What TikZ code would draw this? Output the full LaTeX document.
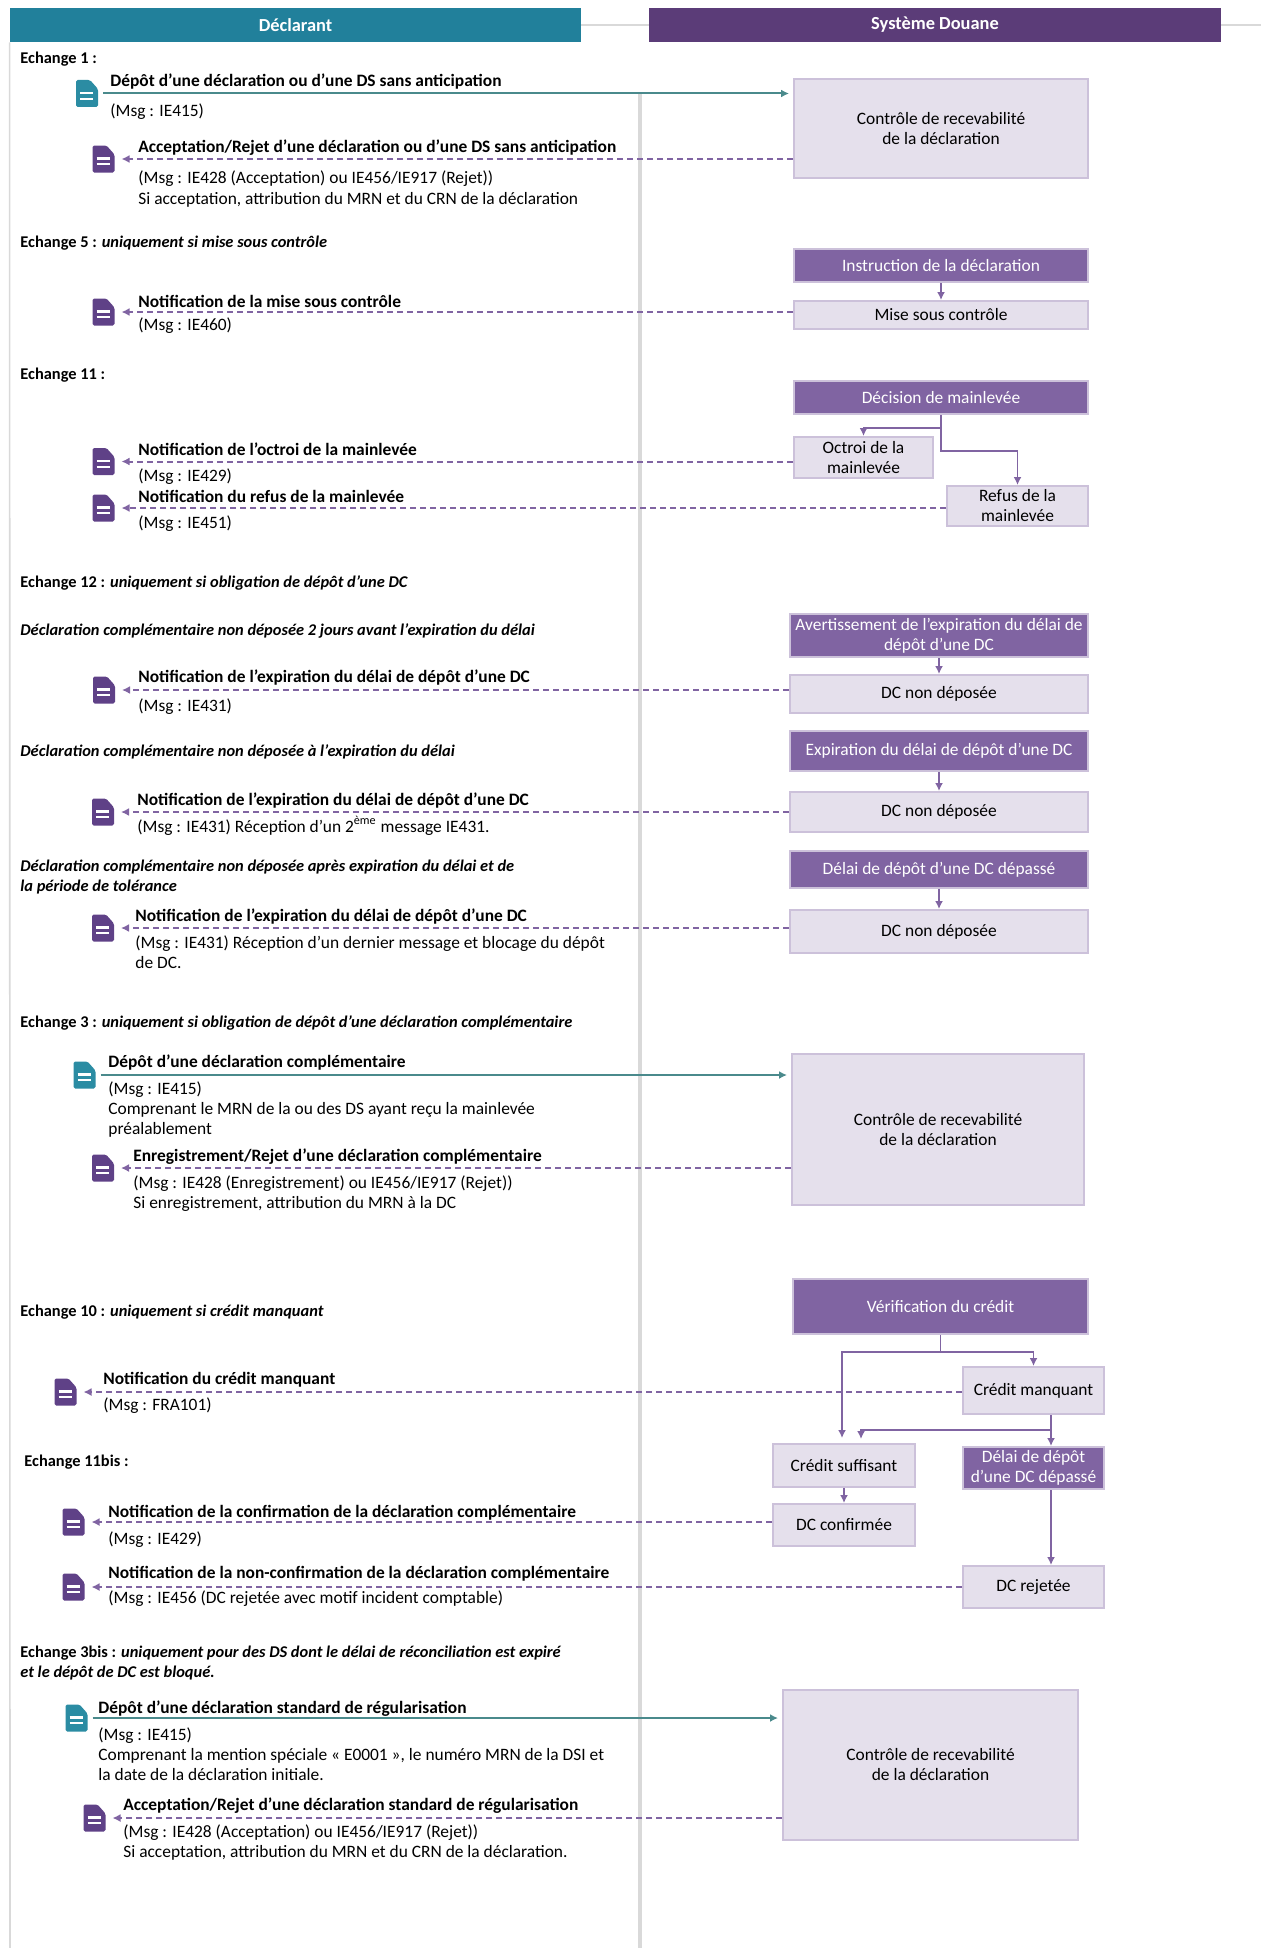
\documentclass[tikz,border=0pt]{standalone}
\usepackage{fontspec}
\setmainfont{Carlito}
\usetikzlibrary{positioning, arrows.meta}

\definecolor{decl}{HTML}{21809B}
\definecolor{douane}{HTML}{5B3C78}
\definecolor{boxdark}{HTML}{8064A2}
\definecolor{boxlight}{HTML}{E5E0EC}
\definecolor{boxline}{HTML}{CCC1DA}
\definecolor{icteal}{HTML}{2B8CA3}
\definecolor{icpurple}{HTML}{5F4187}
\definecolor{arrteal}{HTML}{4A8A8C}
\definecolor{arrpurple}{HTML}{8064A2}
\definecolor{laneline}{HTML}{D9D9D9}

\newcommand{\basefont}{\fontsize{8.7}{10}\selectfont}
\newcommand{\headfont}{\fontsize{8.2}{10}\selectfont}
\newcommand{\lines}[1]{\begin{tabular}[t]{@{}l@{}}#1\end{tabular}} % first line on the baseline

\tikzset{
	>={Latex[length=4pt,width=4pt]}, % small filled arrow heads
	lanehead/.style={minimum height=17pt, inner sep=0pt, text=white, font=\fontsize{9.2}{11}\selectfont\bfseries}, % the two column heads
	laneline/.style={draw=laneline, line width=0.8pt}, % grey separators
	msgtitle/.style={anchor=base west, inner sep=0pt, font=\basefont\bfseries}, % bold message name
	msg/.style={anchor=base west, inner sep=0pt, font=\basefont}, % message details
	heading/.style={anchor=base west, inner sep=0pt, font=\headfont\bfseries}, % Echange ...
	lbox/.style={draw=boxline, fill=boxlight, line width=1pt, align=center, inner sep=1pt, font=\basefont}, % light step
	dbox/.style={lbox, fill=boxdark, text=white}, % dark step
	docicon/.style={minimum width=11pt, minimum height=13.5pt, inner sep=0pt, outer sep=0pt,
		path picture={
			\fill[#1, rounded corners=0.8pt] (path picture bounding box.south west) -- (path picture bounding box.north west)
				-- ([xshift=-4pt]path picture bounding box.north east) -- ([yshift=-4.5pt]path picture bounding box.north east)
				-- (path picture bounding box.south east) -- cycle;
			\draw[white, line width=1.1pt] ([xshift=2pt,yshift=-6.5pt]path picture bounding box.north west) -- ([xshift=-2.5pt,yshift=-6.5pt]path picture bounding box.north east);
			\draw[white, line width=1.1pt] ([xshift=2pt,yshift=-9.4pt]path picture bounding box.north west) -- ([xshift=-2.5pt,yshift=-9.4pt]path picture bounding box.north east);
		}}, % page symbol
	sendarrow/.style={->, draw=arrteal, line width=1pt, shorten <=2.5pt, shorten >=2pt}, % declarant -> douane
	replyarrow/.style={->, draw=arrpurple, line width=1pt, dash pattern=on 3pt off 2pt, shorten >=3.5pt}, % douane -> declarant
	flow/.style={->, draw=arrpurple, line width=0.8pt}, % steps inside the system
}

\begin{document}
\begin{tikzpicture}[x=0.5pt, y=-0.5pt]
	\useasboundingbox (0,0) rectangle (1261,1948);

	% columns
	\node[lanehead, fill=decl, minimum width=285.5pt] (decl) at (295.5,25) {Déclarant};
	\node[lanehead, fill=douane, minimum width=286pt] (douane) at (935,25) {Système Douane};
	\draw[laneline] (decl.east) -- (douane.west);
	\draw[laneline] (douane.east) -- (1261,25);
	\draw[laneline] (decl.south west) -- (10,1948);
	\draw[laneline, line width=2pt] (640,94) -- (640,1948);

	% Echange 1
	\node[heading] (h1) at (20,64) {Echange 1 :};
	\node[lbox, minimum width=147pt, minimum height=49.5pt] (ctl1) at (941,128.5) {Contrôle de recevabilité\\de la déclaration};
	\node[docicon=icteal] (i1) at (87,93.5) {};
	\node[msgtitle] (t1) at (110,87) {Dépôt d’une déclaration ou d’une DS sans anticipation};
	\node[msg] (m1) at (110,117) {(Msg : IE415)};
	\node[docicon=icpurple] (i2) at (103.5,159) {};
	\node[msgtitle] (t2) at (138,153) {Acceptation/Rejet d’une déclaration ou d’une DS sans anticipation};
	\node[msg] (m2) at (138,184) {\lines{(Msg : IE428 (Acceptation) ou IE456/IE917 (Rejet))\\Si acceptation, attribution du MRN et du CRN de la déclaration}};
	\draw[sendarrow] (i1) -- (i1 -| ctl1.west);
	\draw[replyarrow] (ctl1.west |- i2) -- (i2);

	% Echange 5
	\node[heading] (h2) at (20,247) {Echange 5 : \textit{uniquement si mise sous contrôle}};
	\node[dbox, minimum width=147pt, minimum height=16.5pt] (instr) at (941,265.5) {Instruction de la déclaration};
	\node[lbox, minimum width=147pt, minimum height=14pt, below=8.5pt of instr] (misectl) {Mise sous contrôle};
	\node[docicon=icpurple] (i3) at (103.5,312) {};
	\node[msgtitle] (t3) at (138,307) {Notification de la mise sous contrôle};
	\node[msg] (m3) at (138,330) {(Msg : IE460)};
	\draw[flow] (instr) -- (misectl);
	\draw[replyarrow] (misectl.west |- i3) -- (i3);

	% Echange 11
	\node[heading] (h3) at (20,379) {Echange 11 :};
	\node[dbox, minimum width=147pt, minimum height=16.5pt] (decision) at (941,397.5) {Décision de mainlevée};
	\node[lbox, minimum width=69.5pt, minimum height=20.5pt] (octroi) at (863.5,457.5) {Octroi de la\\mainlevée};
	\node[lbox, minimum width=70.5pt, minimum height=20pt] (refus) at (1017.5,506) {Refus de la\\mainlevée};
	\node[docicon=icpurple] (i4) at (103.5,461.5) {};
	\node[msgtitle] (t4) at (138,455) {Notification de l’octroi de la mainlevée};
	\node[msg] (m4) at (138,481) {(Msg : IE429)};
	\node[docicon=icpurple] (i5) at (103.5,508) {};
	\node[msgtitle] (t5) at (138,502) {Notification du refus de la mainlevée};
	\node[msg] (m5) at (138,528) {(Msg : IE451)};
	\draw[flow] (decision.south) -- ++(0,13) -| (octroi.north);
	\draw[flow] (decision.south) -- ++(0,36) -| (refus.north);
	\draw[replyarrow] (octroi.west |- i4) -- (i4);
	\draw[replyarrow] (refus.west |- i5) -- (i5);

	% Echange 12
	\node[heading] (h4) at (20,587) {Echange 12 : \textit{uniquement si obligation de dépôt d’une DC}};
	\node[heading] (h5) at (20,635) {\textit{Déclaration complémentaire non déposée 2 jours avant l’expiration du délai}};
	\node[dbox, minimum width=149pt, minimum height=21.5pt, inner sep=0.5pt] (avert) at (939,635.5) {Avertissement de l’expiration du délai de\\dépôt d’une DC};
	\node[lbox, minimum width=149pt, minimum height=19pt, below=8pt of avert] (dcnd1) {DC non déposée};
	\node[docicon=icpurple] (i6) at (104,690) {};
	\node[msgtitle] (t6) at (138,682) {Notification de l’expiration du délai de dépôt d’une DC};
	\node[msg] (m6) at (138,711) {(Msg : IE431)};
	\draw[flow] (avert) -- (dcnd1);
	\draw[replyarrow] (dcnd1.west |- i6) -- (i6);

	\node[heading] (h6) at (20,756) {\textit{Déclaration complémentaire non déposée à l’expiration du délai}};
	\node[dbox, minimum width=149pt, minimum height=20pt] (expir) at (939,751) {Expiration du délai de dépôt d’une DC};
	\node[lbox, minimum width=149pt, minimum height=20pt, below=9.5pt of expir] (dcnd2) {DC non déposée};
	\node[docicon=icpurple] (i7) at (103,812) {};
	\node[msgtitle] (t7) at (137,805) {Notification de l’expiration du délai de dépôt d’une DC};
	\node[msg] (m7) at (137,832) {(Msg : IE431) Réception d’un 2\textsuperscript{ème} message IE431.};
	\draw[flow] (expir) -- (dcnd2);
	\draw[replyarrow] (dcnd2.west |- i7) -- (i7);

	\node[heading] (h7) at (20,871) {\lines{\textit{Déclaration complémentaire non déposée après expiration du délai et de}\\\textit{la période de tolérance}}};
	\node[dbox, minimum width=149pt, minimum height=18.5pt] (depasse1) at (939,869.5) {Délai de dépôt d’une DC dépassé};
	\node[lbox, minimum width=149pt, minimum height=21.5pt, below=10pt of depasse1] (dcnd3) {DC non déposée};
	\node[docicon=icpurple] (i8) at (103,928) {};
	\node[msgtitle] (t8) at (135,921) {Notification de l’expiration du délai de dépôt d’une DC};
	\node[msg] (m8) at (135,948) {\lines{(Msg : IE431) Réception d’un dernier message et blocage du dépôt\\de DC.}};
	\draw[flow] (depasse1) -- (dcnd3);
	\draw[replyarrow] (dcnd3.west |- i8) -- (i8);

	% Echange 3
	\node[heading] (h8) at (20,1027) {Echange 3 : \textit{uniquement si obligation de dépôt d’une déclaration complémentaire}};
	\node[lbox, minimum width=146pt, minimum height=75.5pt] (ctl2) at (938,1129.5) {Contrôle de recevabilité\\de la déclaration};
	\node[docicon=icteal] (i9) at (84.5,1075) {};
	\node[msgtitle] (t9) at (108,1067) {Dépôt d’une déclaration complémentaire};
	\node[msg] (m9) at (108,1094) {\lines{(Msg : IE415)\\Comprenant le MRN de la ou des DS ayant reçu la mainlevée\\préalablement}};
	\node[docicon=icpurple] (i10) at (103,1168) {};
	\node[msgtitle] (t10) at (133,1161) {Enregistrement/Rejet d’une déclaration complémentaire};
	\node[msg] (m10) at (133,1188) {\lines{(Msg : IE428 (Enregistrement) ou IE456/IE917 (Rejet))\\Si enregistrement, attribution du MRN à la DC}};
	\draw[sendarrow] (i9) -- (i9 -| ctl2.west);
	\draw[replyarrow] (ctl2.west |- i10) -- (i10);

	% Echange 10 / 11bis
	\node[heading] (h9) at (20,1316) {Echange 10 : \textit{uniquement si crédit manquant}};
	\node[dbox, minimum width=147.5pt, minimum height=27.5pt] (verif) at (940.5,1306.5) {Vérification du crédit};
	\node[lbox, minimum width=70.5pt, minimum height=23.5pt] (manquant) at (1033.5,1390.5) {Crédit manquant};
	\node[lbox, minimum width=71pt, minimum height=21.5pt] (suffisant) at (844,1465.5) {Crédit suffisant};
	\node[dbox, minimum width=70.5pt, minimum height=21pt] (depasse2) at (1033.5,1468) {Délai de dépôt\\d’une DC dépassé};
	\node[lbox, minimum width=71pt, minimum height=21pt] (confirmee) at (844,1525) {DC confirmée};
	\node[lbox, minimum width=70.5pt, minimum height=21pt] (rejetee) at (1033.5,1587) {DC rejetée};
	\node[docicon=icpurple] (i11) at (65.5,1392) {};
	\node[msgtitle] (t11) at (103,1384) {Notification du crédit manquant};
	\node[msg] (m11) at (103,1410) {(Msg : FRA101)};
	\node[heading] (h10) at (24,1466) {Echange 11bis :};
	\node[docicon=icpurple] (i12) at (73.5,1522) {};
	\node[msgtitle] (t12) at (108,1517) {Notification de la confirmation de la déclaration complémentaire};
	\node[msg] (m12) at (108,1544) {(Msg : IE429)};
	\node[docicon=icpurple] (i13) at (73.5,1587) {};
	\node[msgtitle] (t13) at (108,1578) {Notification de la non-confirmation de la déclaration complémentaire};
	\node[msg] (m13) at (108,1603) {(Msg : IE456 (DC rejetée avec motif incident comptable)};
	\draw[flow] (verif.south) -- ++(0,17) -| (manquant.north);
	\draw[flow, shorten >=2.5pt] (verif.south) -- ++(0,17) -| ([xshift=-1pt]suffisant.north);
	\draw[flow] ([xshift=8.75pt]manquant.south) -- ([xshift=8.75pt]depasse2.north);
	\draw[flow, shorten >=2pt] ([xshift=8.75pt]manquant.south) -- ++(0,15) -| ([xshift=8.5pt]suffisant.north);
	\draw[flow] ([xshift=8.75pt]depasse2.south) -- ([xshift=8.75pt]rejetee.north);
	\draw[flow] (suffisant) -- (confirmee);
	\draw[replyarrow] (manquant.west |- i11) -- (i11);
	\draw[replyarrow] (confirmee.west |- i12) -- (i12);
	\draw[replyarrow] (rejetee.west |- i13) -- (i13);

	% Echange 3bis
	\node[heading] (h11) at (20,1657) {\lines{Echange 3bis : \textit{uniquement pour des DS dont le délai de réconciliation est expiré}\\\textit{et le dépôt de DC est bloqué.}}};
	\node[lbox, minimum width=147.5pt, minimum height=75pt] (ctl3) at (930.5,1765) {Contrôle de recevabilité\\de la déclaration};
	\node[docicon=icteal] (i14) at (76.5,1718) {};
	\node[msgtitle] (t14) at (98,1713) {Dépôt d’une déclaration standard de régularisation};
	\node[msg] (m14) at (98,1740) {\lines{(Msg : IE415)\\Comprenant la mention spéciale « E0001 », le numéro MRN de la DSI et\\la date de la déclaration initiale.}};
	\node[docicon=icpurple] (i15) at (94.5,1818) {};
	\node[msgtitle] (t15) at (123,1810) {Acceptation/Rejet d’une déclaration standard de régularisation};
	\node[msg] (m15) at (123,1837) {\lines{(Msg : IE428 (Acceptation) ou IE456/IE917 (Rejet))\\Si acceptation, attribution du MRN et du CRN de la déclaration.}};
	\draw[sendarrow] (i14) -- (i14 -| ctl3.west);
	\draw[replyarrow] (ctl3.west |- i15) -- (i15);
\end{tikzpicture}
\end{document}
